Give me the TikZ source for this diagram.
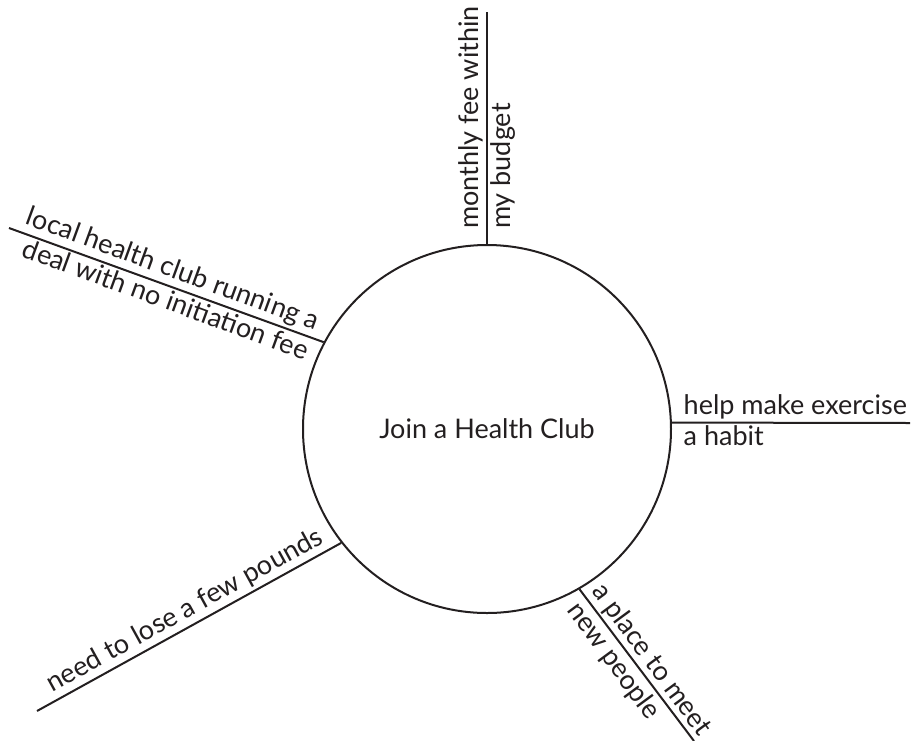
\documentclass[tikz,border=0pt]{standalone}
\usepackage{fontspec}
\setmainfont{Lato}
\usetikzlibrary{positioning}
\definecolor{ink}{RGB}{35,31,32}
\tikzset{hub/.style={
    circle, draw=ink, line width=2pt, minimum size=368pt,
    font=\fontsize{27}{29}\selectfont, text=ink
  },
  spoke/.style={draw=ink, line width=2pt},
  lbl/.style={font=\fontsize{27}{29}\selectfont, text=ink, inner sep=2.5pt}
}
\begin{document}
\begin{tikzpicture}[x=1pt,y=-1pt]
      \useasboundingbox (0,0) rectangle (914,740);
      \node[hub] (hub) at (487,429) {Join a Health Club};
      \coordinate (topEnd) at (487,12);
      \coordinate (rightEnd) at (910,423);
      \coordinate (ulEnd) at (9,228);
      \coordinate (llEnd) at (37,711);
      \coordinate (lrEnd) at (694,741);
      \draw[spoke] (hub.90) -- (topEnd)
        node[lbl, pos=0.05, anchor=south west, rotate=90] {monthly fee within}
        node[lbl, pos=0.05, anchor=north west, rotate=90] {my budget};
      \draw[spoke] (hub.2) -- (rightEnd)
        node[lbl, pos=0.035, anchor=south west] {help make exercise}
        node[lbl, pos=0.035, anchor=north west] {a habit};
      \draw[spoke] (hub.152) -- (ulEnd)
        node[lbl, pos=0.025, anchor=south east, rotate=-20.1] {local health club running a}
        node[lbl, pos=0.025, anchor=north east, rotate=-20.1] {deal with no initiation fee};
      \draw[spoke] (hub.218) -- (llEnd)
        node[lbl, pos=0.03, anchor=south east, rotate=28.8] {need to lose a few pounds};
      \draw[spoke] (hub.300) -- (lrEnd)
        node[lbl, pos=0.03, anchor=south west, rotate=-53.6] {a place to meet}
        node[lbl, pos=0.03, anchor=north west, rotate=-53.6] {new people};
    \end{tikzpicture}
\end{document}
